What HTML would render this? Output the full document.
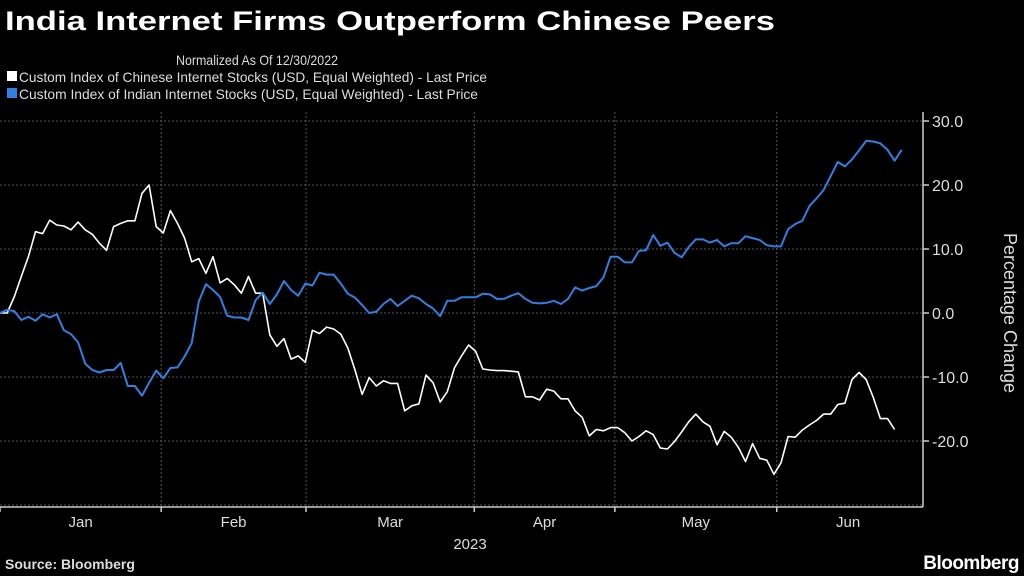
<!DOCTYPE html>
<html><head><meta charset="utf-8"><style>
html,body{margin:0;padding:0;background:#000;}
svg{display:block;font-family:"Liberation Sans",sans-serif;}
</style></head><body>
<svg id="chart" width="1024" height="576" viewBox="0 0 1024 576">
<rect x="0" y="0" width="1024" height="576" fill="#000"/>
<text x="5" y="30" fill="#fff" font-size="27" font-weight="bold" textLength="770" lengthAdjust="spacingAndGlyphs">India Internet Firms Outperform Chinese Peers</text>
<text x="176" y="65" fill="#ddd" font-size="14" textLength="162" lengthAdjust="spacingAndGlyphs">Normalized As Of 12/30/2022</text>
<g>
<rect x="7" y="71" width="10" height="10" fill="#fff"/>
<text x="19" y="82" fill="#ddd" font-size="14" textLength="468" lengthAdjust="spacingAndGlyphs">Custom Index of Chinese Internet Stocks (USD, Equal Weighted) - Last Price</text>
</g>
<g>
<rect x="7" y="88" width="10" height="10" fill="#2f80e0"/>
<text x="19" y="99" fill="#ddd" font-size="14" textLength="459" lengthAdjust="spacingAndGlyphs">Custom Index of Indian Internet Stocks (USD, Equal Weighted) - Last Price</text>
</g>
<g id="grid"></g>
<g id="axes"></g>
<g id="series"></g>
<text transform="translate(1004,313) rotate(90)" text-anchor="middle" fill="#ddd" font-size="18">Percentage Change</text>
<text x="470" y="549" text-anchor="middle" fill="#ddd" font-size="15">2023</text>
<text x="5" y="569" fill="#ddd" font-size="14" font-weight="bold">Source: Bloomberg</text>
<text x="1019" y="569" text-anchor="end" fill="#fff" font-size="19" font-weight="bold" letter-spacing="-0.5">Bloomberg</text>
</svg>
<script>
const chineseValues=[0,0,2.5,5.7,8.8,12.7,12.4,14.5,13.75,13.6,13.0,14.2,13.0,12.3,10.9,9.8,13.5,14.0,14.4,14.4,18.7,20.0,13.5,12.5,16.0,14.0,11.7,8.0,8.5,6.2,8.8,4.7,5.4,4.4,3.1,5.7,3.1,3.1,-3.4,-5.2,-4.0,-7.2,-6.7,-7.7,-2.7,-3.2,-2.2,-2.5,-3.3,-5.5,-8.9,-12.7,-10.1,-11.4,-10.6,-11.0,-11.0,-15.3,-14.5,-14.2,-9.7,-10.9,-13.9,-12.3,-8.6,-6.7,-5.0,-6.0,-8.75,-8.9,
-9.0,-9.0,-9.1,-9.2,-13.1,-13.1,-13.6,-11.9,-12.2,-13.4,-13.4,-15.3,-16.3,-19.2,-18.2,-18.4,-17.9,-17.9,-18.7,-20.0,-19.3,-18.4,-19.0,-21.1,-21.25,-20.1,-18.6,-17.0,-15.8,-17.0,-17.7,-20.6,-18.5,-19.4,-21.0,-23.2,-20.4,-22.7,-23.0,-25.2,-23.4,-19.3,-19.4,-18.3,-17.5,-16.8,-15.8,-15.8,-14.3,-14.1,-10.4,-9.3,-10.4,-13.2,-16.5,-16.5,-18.2];
const indianValues=[0,0.5,0.3,-1.1,-0.6,-1.2,-0.2,-0.7,-0.2,-2.7,-3.3,-4.6,-7.9,-8.9,-9.3,-8.9,-8.9,-7.8,-11.4,-11.4,-12.9,-10.9,-9.0,-10.2,-8.6,-8.5,-6.8,-4.7,1.8,4.5,3.6,2.5,-0.4,-0.7,-0.7,-1.1,2.0,3.2,1.4,2.9,5.0,3.6,2.7,4.6,4.3,6.3,6.0,6.0,4.6,3.0,2.4,1.25,0,0.2,1.4,2.2,1.1,1.9,2.7,2.3,1.4,0.7,-0.5,1.9,1.9,2.45,2.45,2.45,3.0,2.9,
2.2,2.2,2.7,3.1,2.2,1.6,1.5,1.6,1.9,1.4,2.2,4.0,3.5,3.9,4.2,5.6,8.8,8.8,7.9,7.9,9.7,9.8,12.2,10.5,11.0,9.4,8.7,10.3,11.5,11.5,11.0,11.4,10.4,10.9,10.9,12.0,11.7,11.4,10.6,10.4,10.4,13.1,13.9,14.4,16.7,17.9,19.2,21.4,23.6,22.9,24.0,25.4,26.9,26.8,26.5,25.5,23.8,25.5];
const yTicks=[30,20,10,0,-10,-20];
const yTickLabels=["30.0","20.0","10.0","0.0","-10.0","-20.0"];
const monthLabels=["Jan","Feb","Mar","Apr","May","Jun"];
const monthStartIndex=[0,22.7,43.1,66.8,86.6,109.4];
const NS="http://www.w3.org/2000/svg";
const xStep=7.1, axisX=923, axisY=507;
function xs(i){return i*xStep;}
function ys(v){return 313-v*6.4;}
function mk(tag,attrs,parent){const e=document.createElementNS(NS,tag);for(const k in attrs)e.setAttribute(k,attrs[k]);parent.appendChild(e);return e;}
const grid=document.getElementById('grid'),axes=document.getElementById('axes'),series=document.getElementById('series');
[30,20,10,0,-10,-20,-30].forEach(v=>{
  const l=mk('line',{x1:0,x2:axisX,y1:ys(v),y2:ys(v),stroke:'#555','stroke-width':1,'stroke-dasharray':'2,2'},grid);
  
  
});
monthStartIndex.slice(1).forEach(i=>{
  const l=mk('line',{x1:xs(i),x2:xs(i),y1:112,y2:axisY,stroke:'#555','stroke-width':1,'stroke-dasharray':'2,2'},grid);
  
  
});
const ya=mk('line',{x1:axisX,x2:axisX,y1:112,y2:axisY,stroke:'#ccc','stroke-width':1.5},axes);


const xa=mk('line',{x1:0,x2:axisX,y1:axisY,y2:axisY,stroke:'#ccc','stroke-width':1.5},axes);


yTicks.forEach((v,k)=>{
  mk('line',{x1:axisX,x2:axisX+6,y1:ys(v),y2:ys(v),stroke:'#ccc','stroke-width':1.5},axes);
  const t=mk('text',{x:axisX+9,y:ys(v)+6,fill:'#ddd','font-size':16},axes);
  t.textContent=yTickLabels[k];
  
  
});
monthLabels.forEach((m,k)=>{
  mk('line',{x1:xs(monthStartIndex[k]),x2:xs(monthStartIndex[k]),y1:axisY,y2:axisY+5,stroke:'#ccc','stroke-width':1.5},axes);
  const next=k+1<monthStartIndex.length?monthStartIndex[k+1]:129.5;
  const t=mk('text',{x:(xs(monthStartIndex[k])+xs(next))/2,y:527,fill:'#ddd','font-size':15,'text-anchor':'middle'},axes);
  t.textContent=m;
  
  
});
function pts(arr){return arr.map((v,i)=>xs(i).toFixed(1)+','+ys(v).toFixed(1)).join(' ');}
const wl=mk('polyline',{points:pts(chineseValues),fill:'none',stroke:'#fff','stroke-width':1.6,'stroke-linejoin':'round'},series);


const bl=mk('polyline',{points:pts(indianValues),fill:'none',stroke:'#2f80e0','stroke-width':2,'stroke-linejoin':'round'},series);


</script>
</body></html>
